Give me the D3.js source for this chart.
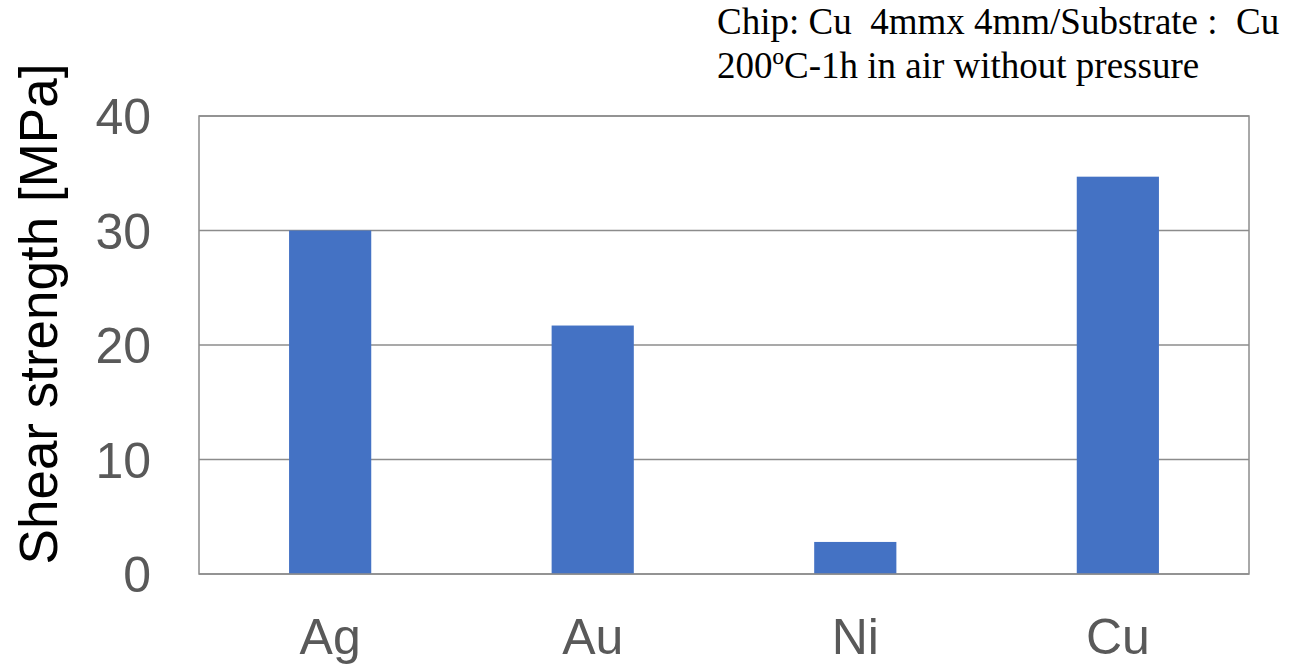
<!DOCTYPE html>
<html lang="en">
<head>
<meta charset="UTF-8">
<title>Shear strength</title>
<script src="https://d3js.org/d3.v7.min.js"></script>
<style>
  html, body { margin:0; padding:0; background:#fff; overflow:hidden; }
  text { white-space:pre; }
</style>
</head>
<body>
<div id="chart"></div>
<script>
const categories=["Ag","Au","Ni","Cu"];
const strength=[30.0,21.7,2.8,34.7];
const yTicks=[0,10,20,30,40];
const noteLines=["Chip: Cu  4mmx 4mm/Substrate :  Cu","200\u00baC-1h in air without pressure"];

const width=1290,height=666;
const margin={top:116,right:41,bottom:92,left:199};
const svg=d3.select("#chart").append("svg")
  .attr("width",width).attr("height",height);

const x=d3.scaleBand().domain(categories)
  .range([margin.left,width-margin.right]).paddingInner(0.687).paddingOuter(0.343);
const y=d3.scaleLinear().domain([0,40]).range([height-margin.bottom,margin.top]);

// gridlines
svg.append("g").selectAll("line").data(yTicks).join("line")
  .attr("x1",margin.left).attr("x2",width-margin.right)
  .attr("y1",d=>y(d)).attr("y2",d=>y(d))
  .attr("stroke","#8c8c8c").attr("stroke-width",1.5);

// bars
svg.append("g").selectAll("rect").data(strength).join("rect")
  .attr("x",(d,i)=>x(categories[i])).attr("width",x.bandwidth())
  .attr("y",d=>y(d)).attr("height",d=>y(0)-y(d))
  .attr("fill","#4472c4");

// plot frame
svg.append("rect")
  .attr("x",margin.left).attr("y",margin.top)
  .attr("width",width-margin.right-margin.left).attr("height",height-margin.bottom-margin.top)
  .attr("fill","none").attr("stroke","#8c8c8c").attr("stroke-width",1.5);

// y tick labels
svg.append("g").selectAll("text").data(yTicks).join("text")
  .attr("x",151).attr("y",d=>y(d)+18)
  .attr("text-anchor","end")
  .attr("font-family","Liberation Sans, Arial, sans-serif")
  .attr("font-size",50).attr("fill","#595959")
  .text(d=>d);

// x labels
svg.append("g").selectAll("text").data(categories).join("text")
  .attr("x",d=>x(d)+x.bandwidth()/2).attr("y",654)
  .attr("text-anchor","middle")
  .attr("font-family","Liberation Sans, Arial, sans-serif")
  .attr("font-size",50).attr("fill","#595959")
  .text(d=>d);

// y axis title
svg.append("text")
  .attr("transform","translate(57,314) rotate(-90)")
  .attr("text-anchor","middle")
  .attr("font-family","Liberation Sans, Arial, sans-serif")
  .attr("font-size",53).attr("fill","#000")
  .text("Shear strength [MPa]");

// annotation
svg.append("g").selectAll("text").data(noteLines).join("text")
  .attr("x",717).attr("y",(d,i)=>34+i*44)
  .attr("font-family","Liberation Serif, Times New Roman, serif")
  .attr("font-size",37).attr("fill","#000")
  .text(d=>d);
</script>
</body>
</html>
